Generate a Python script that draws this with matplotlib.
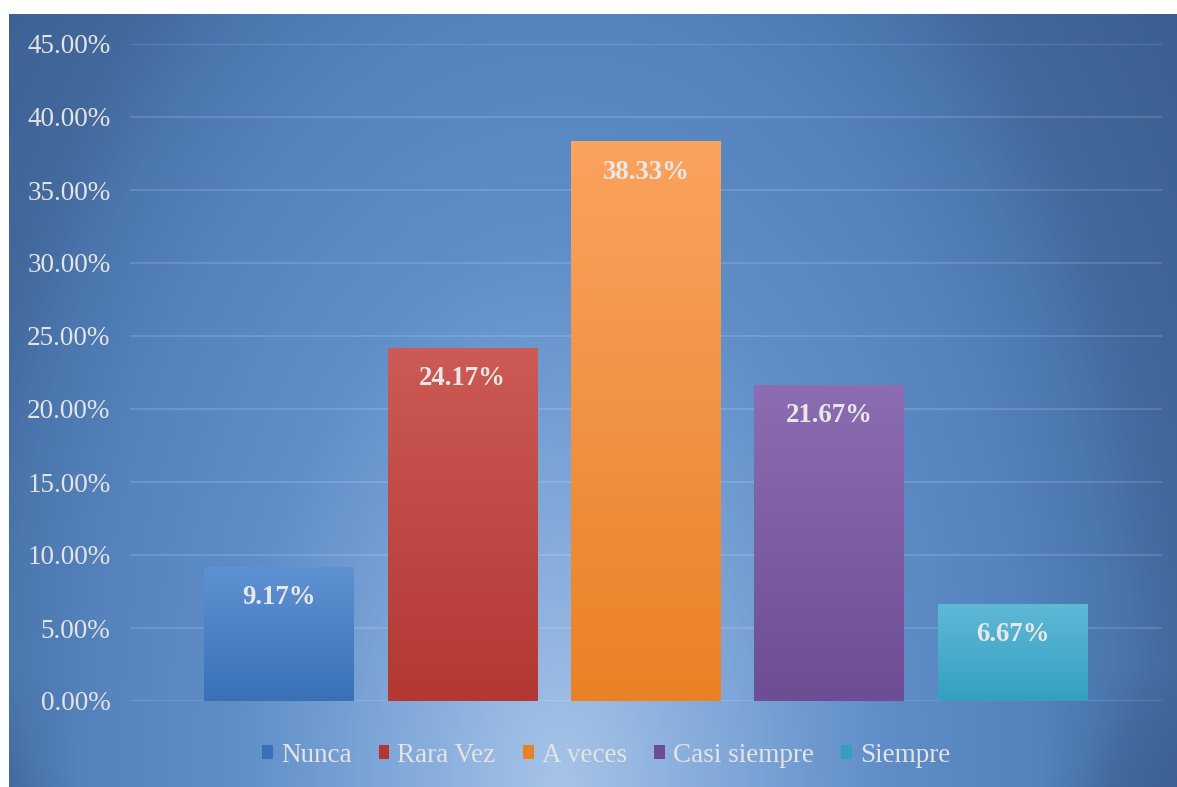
import numpy as np
import matplotlib
matplotlib.use("Agg")
import matplotlib.pyplot as plt
from matplotlib.colors import LinearSegmentedColormap
from matplotlib.patches import Patch

plt.rcParams['font.family'] = ['Liberation Serif', 'DejaVu Serif']

categorias = ['Nunca', 'Rara Vez', 'A veces', 'Casi siempre', 'Siempre']
valores = [9.17, 24.17, 38.33, 21.67, 6.67]
etiquetas = ['9.17%', '24.17%', '38.33%', '21.67%', '6.67%']
y_ticks = [0, 5, 10, 15, 20, 25, 30, 35, 40, 45]

color_top = ['#5e92d2', '#cc5a55', '#faa35f', '#8c6db2', '#5fb9d6']
color_bot = ['#3a70b6', '#b33834', '#ea8126', '#6d4e94', '#33a0c0']

W, H = 1177, 787
fig = plt.figure(figsize=(W / 100, H / 100), dpi=100)
fig.patch.set_facecolor('white')

# fondo con degradado radial (claro abajo al centro, oscuro en esquinas)
bw_px, bh_px = W - 9, H - 14
bg = fig.add_axes([9 / W, 0, bw_px / W, bh_px / H])
bg.set_axis_off()
yy, xx = np.mgrid[0:bh_px:2, 0:bw_px:2]
dx = (xx - 550) / 600.0
dy = yy / 1000.0
r = np.sqrt(dx ** 2 + dy ** 2)
r = r + 1.0 * np.clip(np.abs(dx) - 0.8, 0, None) * np.clip(1 - yy / 120.0, 0, 1)
r = np.clip(r, 0, 1.3) / 1.3
cmap_bg = LinearSegmentedColormap.from_list(
    'bg', [(0, '#a7c4e8'), (0.23, '#7ea6d8'), (0.42, '#5e8dc8'),
           (0.6, '#5683bd'), (0.71, '#4c78b0'), (0.8, '#43699d'),
           (1.0, '#3a5e8f')])
bg.imshow(r, cmap=cmap_bg, origin='lower', aspect='auto', extent=[0, 1, 0, 1],
          vmin=0, vmax=1)

ax = fig.add_axes([130 / W, 1 - 701 / H, 1032 / W, 657 / H])
ax.set_facecolor('none')
x = np.arange(len(categorias))
ancho = 0.818
bars = ax.bar(x, valores, width=ancho, color=color_bot, zorder=3)

ax.set_xlim(-0.815, len(categorias) - 1 + 0.815)
ax.set_ylim(0, 45)
ax.set_yticks(y_ticks)
ax.set_yticklabels([f'{t:.2f}%' for t in y_ticks], fontsize=19.5, color='#e4e4e4')
ax.set_xticks([])
ax.tick_params(axis='y', length=0, pad=14)
for s in ax.spines.values():
    s.set_visible(False)
ax.grid(axis='y', color='#ffffff', alpha=0.16, linewidth=1.2, zorder=0)

# degradado vertical en cada barra
for b, c1, c2 in zip(bars, color_top, color_bot):
    cm = LinearSegmentedColormap.from_list('b', [c2, c1])
    grad = np.linspace(0, 1, 100).reshape(-1, 1)
    bx, bw, bh = b.get_x(), b.get_width(), b.get_height()
    im = ax.imshow(grad, cmap=cm, origin='lower', aspect='auto',
                   extent=[bx, bx + bw, 0, bh], zorder=4)
    im.set_clip_path(b)

for b, txt in zip(bars, etiquetas):
    ax.text(b.get_x() + b.get_width() / 2, b.get_height() - 2.1, txt,
            ha='center', va='center', fontsize=19.3, fontweight='bold',
            color='#e8e8e8', zorder=5)

handles = [Patch(facecolor=c, edgecolor='none') for c in color_bot]
leg = fig.legend(handles, categorias, loc='center', bbox_to_anchor=(606 / W, 1 - 755 / H),
                 ncol=5, frameon=False, fontsize=19.5, handlelength=0.4,
                 handleheight=0.4, handletextpad=0.3, columnspacing=1.0)
for t in leg.get_texts():
    t.set_color('#e4e4e4')

ax.set_xlim(-0.815, len(categorias) - 1 + 0.815)
ax.set_ylim(0, 45)
fig.savefig('out.png', dpi=100)
